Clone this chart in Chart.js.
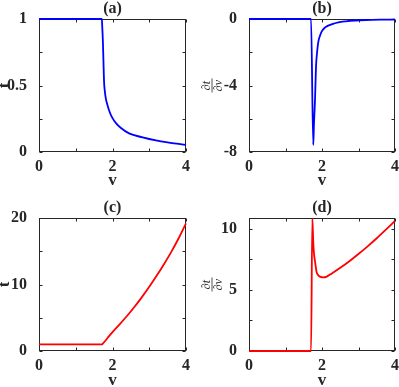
<!DOCTYPE html>
<html><head><meta charset="utf-8">
<script src="https://cdn.jsdelivr.net/npm/chart.js@4.4.0/dist/chart.umd.min.js"></script>
<style>
html,body{margin:0;padding:0;background:#fff;width:399px;height:387px;overflow:hidden;position:relative}
canvas{position:absolute}
</style></head><body>
<canvas id="ca" width="196" height="190" style="left:0;top:0"></canvas>
<canvas id="cb" width="199" height="190" style="left:200px;top:0"></canvas>
<canvas id="cc" width="196" height="197" style="left:0;top:190px"></canvas>
<canvas id="cd" width="199" height="197" style="left:200px;top:190px"></canvas>
<script>
// ---- data ----
const vA = [0, 1.71, 1.72, 1.73, 1.74, 1.75, 1.76, 1.77, 1.79, 1.82, 1.86, 1.93, 2.0, 2.1, 2.23, 2.45, 2.82, 3.18, 3.5, 3.8, 4.0];
const tA = [1, 1, 0.95, 0.89, 0.82, 0.72, 0.62, 0.53, 0.46, 0.40, 0.355, 0.295, 0.255, 0.215, 0.18, 0.14, 0.11, 0.087, 0.072, 0.061, 0.053];

const vB = [0, 1.70, 1.76, 1.78, 1.81, 1.835, 1.87, 1.90, 1.95, 1.99, 2.08, 2.17, 2.3, 2.45, 2.65, 2.9, 3.2, 3.6, 4.0];
const dB = [0, 0, -7.58, -6.3, -4.77, -2.9, -1.9, -1.36, -0.98, -0.76, -0.52, -0.40, -0.29, -0.2, -0.14, -0.09, -0.06, -0.04, -0.03];

const vC = [0, 1.72, 1.75, 1.8, 1.9, 2.0, 2.2, 2.4, 2.6, 2.8, 3.0, 3.2, 3.4, 3.6, 3.8, 4.0];
const tC = [1, 1, 1.2, 1.5, 2.2, 2.85, 4.05, 5.3, 6.65, 8.1, 9.65, 11.3, 13.05, 14.9, 16.95, 19.2];

const vD = [0, 1.70, 1.735, 1.76, 1.78, 1.81, 1.85, 1.90, 1.96, 2.04, 2.13, 2.27, 2.49, 2.75, 2.99, 3.25, 3.5, 3.75, 4.0];
const dD = [0, 0, 10.85, 8.96, 8.0, 7.32, 6.5, 6.2, 6.07, 6.03, 6.1, 6.36, 6.8, 7.36, 7.93, 8.58, 9.24, 9.94, 10.66];

const xTickLabels = [0, 2, 4];
const yTickLabelsA = [0, 0.5, 1];
const yTickLabelsB = [-8, -4, 0];
const yTickLabelsC = [0, 10, 20];
const yTickLabelsD = [0, 5, 10];
const panelTitles = ['(a)', '(b)', '(c)', '(d)'];
const xTitle = 'v';
const yTitleT = 't';
const fracNum = '\u2202t', fracDen = '\u2202v';

// ---- drawing ----
const INK = '#262626';
const FONT = 'Liberation Serif';

const framePlugin = {
  id: 'frame',
  beforeDatasetsDraw(chart) {
    const {ctx, chartArea: a, scales: {x, y}} = chart;
    ctx.save();
    ctx.strokeStyle = INK; ctx.lineWidth = 1;
    const L = Math.round(a.left) + 0.5, R = Math.round(a.right) - 0.5;
    const T = Math.round(a.top) + 0.5, B = Math.round(a.bottom) - 0.5;
    ctx.strokeRect(L, T, R - L, B - T);
    const tl = 3;
    ctx.beginPath();
    x.ticks.forEach(t => {
      const px = Math.round(x.getPixelForValue(t.value)) + 0.5;
      ctx.moveTo(px, B); ctx.lineTo(px, B - tl);
      ctx.moveTo(px, T); ctx.lineTo(px, T + tl);
    });
    y.ticks.forEach(t => {
      const py = Math.round(y.getPixelForValue(t.value)) + 0.5;
      ctx.moveTo(L, py); ctx.lineTo(L + tl, py);
      ctx.moveTo(R, py); ctx.lineTo(R - tl, py);
    });
    ctx.stroke();
    ctx.restore();
  },
  afterDraw(chart) {
    const o = chart.options.plugins.frame;
    const {ctx, chartArea: a} = chart;
    ctx.save();
    ctx.fillStyle = INK;
    ctx.font = 'bold 16px "' + FONT + '"';
    ctx.textAlign = 'center'; ctx.textBaseline = 'middle';
    ctx.fillText(o.title, (a.left + a.right) / 2, a.top - 10);
    if (o.frac) {
      const cy = (a.top + a.bottom) / 2;
      ctx.translate(o.fracX, cy);
      ctx.rotate(-Math.PI / 2);
      ctx.font = 'italic 12px "' + FONT + '"';
      ctx.textBaseline = 'alphabetic';
      ctx.fillText(fracNum, 0, -2);
      ctx.textBaseline = 'top';
      ctx.fillText(fracDen, 0, 1);
      ctx.lineWidth = 0.8; ctx.strokeStyle = INK;
      ctx.beginPath(); ctx.moveTo(-7, 0); ctx.lineTo(7, 0); ctx.stroke();
    }
    ctx.restore();
  }
};

function makePanel(id, xs, ys, color, ymin, ymax, ystep, ylabels, title, opts) {
  const pts = xs.map((v, i) => ({x: v, y: ys[i]}));
  new Chart(document.getElementById(id), {
    type: 'line',
    data: {datasets: [{data: pts, borderColor: color, borderWidth: 1.8, pointRadius: 0,
      cubicInterpolationMode: 'monotone', fill: false, clip: false}]},
    options: {
      responsive: false, animation: false,
      layout: {padding: {left: 0, right: opts.padR, top: opts.padT, bottom: 0}},
      plugins: {legend: {display: false}, tooltip: {enabled: false},
        frame: {title: title, frac: opts.frac, fracX: opts.fracX}},
      scales: {
        x: {type: 'linear', min: 0, max: 4,
          grid: {display: false}, border: {display: false},
          ticks: {stepSize: 1, autoSkip: false, maxRotation: 0, padding: -3, color: INK,
            font: {family: FONT, weight: 'bold', size: 16},
            callback: v => xTickLabels.includes(v) ? String(v) : ''},
          title: {display: true, text: xTitle, color: INK, padding: 0,
            font: {family: FONT, weight: 'bold', size: 17, lineHeight: opts.xTitleLH}},
          afterFit: s => { s.height = opts.xH; }
        },
        y: {type: 'linear', min: ymin, max: ymax,
          grid: {display: false}, border: {display: false},
          ticks: {stepSize: ystep, autoSkip: false, includeBounds: false, padding: 4, color: INK,
            font: {family: FONT, weight: 'bold', size: 16},
            callback: v => ylabels.includes(v) ? String(v) : ''},
          title: {display: !opts.frac, text: yTitleT, color: INK, padding: 0,
            font: {family: FONT, weight: 'bold', size: 17, lineHeight: 0.6}},
          afterFit: s => { s.width = opts.yW; }
        }
      }
    },
    plugins: [framePlugin]
  });
}

makePanel('ca', vA, tA, '#0000ff', 0, 1, 0.25, yTickLabelsA, panelTitles[0],
  {padR: 10, padT: 19, xH: 38, yW: 39, xTitleLH: 1.1, frac: false});
makePanel('cb', vB, dB, '#0000ff', -8, 0, 2, yTickLabelsB, panelTitles[1],
  {padR: 4, padT: 19, xH: 38, yW: 49, xTitleLH: 1.1, frac: true, fracX: 12});
makePanel('cc', vC, tC, '#ff0000', 0, 20, 5, yTickLabelsC, panelTitles[2],
  {padR: 10, padT: 28, xH: 36, yW: 39, xTitleLH: 0.8, frac: false});
makePanel('cd', vD, dD, '#ff0000', 0, 10.9, 2.5, yTickLabelsD, panelTitles[3],
  {padR: 4, padT: 28, xH: 36, yW: 49, xTitleLH: 0.8, frac: true, fracX: 12});
</script>
</body></html>
